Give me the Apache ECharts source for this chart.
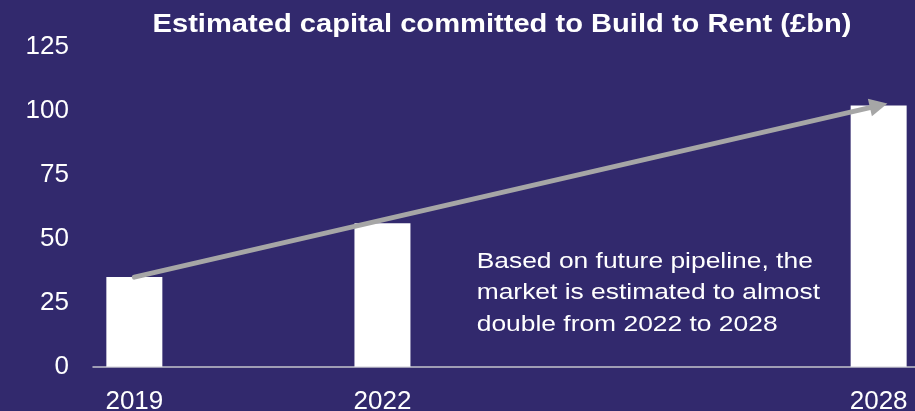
<!DOCTYPE html>
<html>
<head>
<meta charset="utf-8">
<style>
  html, body { margin: 0; padding: 0; background: #32296d; }
  #chart { width: 915px; height: 411px; }
</style>
<script src="https://cdn.jsdelivr.net/npm/echarts@6/dist/echarts.min.js"></script>
</head>
<body>
<div id="chart"></div>
<script>
// Capital committed to Build to Rent, £bn
const years = [2019, 2022, 2028];
const capital = [35, 56, 102];
const yTicks = [0, 25, 50, 75, 100, 125];
const titleText = 'Estimated capital committed to Build to Rent (£bn)';
const noteLines = [
  'Based on future pipeline, the',
  'market is estimated to almost',
  'double from 2022 to 2028'
];

const FONT = '"Liberation Sans", Arial, sans-serif';
const chart = echarts.init(document.getElementById('chart'));

chart.setOption({
  backgroundColor: '#32296d',
  animation: false,
  grid: { left: 93, top: 46.7, bottom: 44.3, width: 827, outerBoundsMode: 'none', containLabel: false },
  xAxis: {
    type: 'value',
    min: 2018.5,
    max: 2028.5,
    interval: 0.5,
    splitLine: { show: false },
    axisTick: { show: false },
    axisLine: { show: true, lineStyle: { color: '#c4c4cc', width: 1.5 } },
    axisLabel: {
      color: '#ffffff',
      fontSize: 26,
      fontFamily: FONT,
      margin: 22,
      showMinLabel: true,
      showMaxLabel: true,
      hideOverlap: false,
      formatter: v => (years.indexOf(Math.round(v * 2) / 2) >= 0 ? String(v) : '')
    }
  },
  yAxis: {
    type: 'value',
    min: yTicks[0],
    max: yTicks[yTicks.length - 1],
    interval: 25,
    splitLine: { show: false },
    axisTick: { show: false },
    axisLine: { show: false },
    axisLabel: { color: '#ffffff', fontSize: 26, fontFamily: FONT, margin: 24 }
  },
  series: [{
    type: 'bar',
    barWidth: 56,
    itemStyle: { color: '#ffffff' },
    data: years.map((y, i) => [y, capital[i]]),
    markLine: {
      silent: true,
      symbol: ['none', 'triangle'],
      symbolSize: [18, 18],
      label: { show: false },
      lineStyle: { color: '#a6a6a6', width: 5, type: 'solid', cap: 'round' },
      data: [[
        { coord: [years[0], capital[0]] },
        { coord: [years[2], capital[2]] }
      ]]
    }
  }],
  graphic: [
    {
      type: 'text',
      x: 502,
      y: 25,
      scaleX: 1.12,
      style: {
        text: titleText,
        fill: '#ffffff',
        fontSize: 26,
        fontWeight: 'bold',
        fontFamily: FONT,
        align: 'center',
        verticalAlign: 'middle'
      }
    },
    {
      type: 'text',
      x: 476.7,
      y: 246,
      scaleX: 1.2,
      style: {
        text: noteLines.join('\n'),
        fill: '#ffffff',
        fontSize: 22,
        lineHeight: 31.6,
        fontFamily: FONT,
        align: 'left',
        verticalAlign: 'top'
      }
    }
  ]
});
</script>
</body>
</html>
